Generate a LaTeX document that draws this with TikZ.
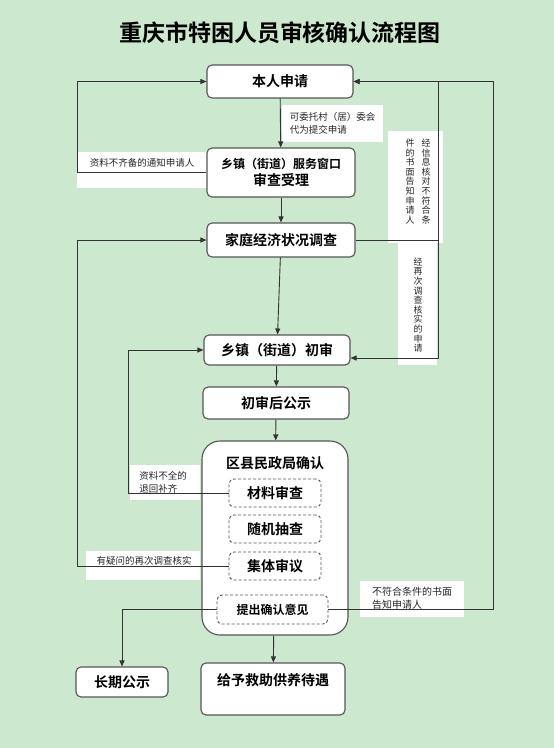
\documentclass[tikz,border=0pt]{standalone}
\usepackage{fontspec}
\setmainfont{Noto Sans CJK SC}[BoldFont={Noto Sans CJK SC Bold}]
\usepackage{xcolor}
\usetikzlibrary{arrows.meta}

\definecolor{bgreen}{HTML}{CCE8CF}
\definecolor{boxline}{HTML}{555555}
\definecolor{wire}{HTML}{333333}

\tikzset{
  stepbox/.style={draw=boxline, line width=1.1pt, fill=white, rounded corners=5pt,
    inner sep=0pt, align=center, font=\fontsize{14}{17}\selectfont\bfseries},
  checkbox/.style={draw=boxline, line width=0.9pt, dash pattern=on 3pt off 2pt,
    fill=white, rounded corners=5pt, inner sep=0pt, minimum width=92pt,
    minimum height=28pt, font=\fontsize{14}{17}\selectfont\bfseries},
  notebg/.style={fill=white, inner sep=0pt},
  notetext/.style={inner sep=0pt, text=black!85, align=left,
    font=\fontsize{9.5}{13}\selectfont},
  vtext/.style={inner sep=0pt, text=black!85, align=center,
    font=\fontsize{9}{9.6}\selectfont},
  wireline/.style={draw=wire, line width=0.9pt},
  arr/.style={wireline, -{Triangle[length=6pt,width=5pt]}},
}

\begin{document}
\begin{tikzpicture}[x=1pt,y=-1pt]
  \fill[bgreen] (0,0) rectangle (554,748);
  \useasboundingbox (0,0) rectangle (554,748);

  \node[font=\fontsize{23}{28}\selectfont\bfseries] (title) at (280,33) {重庆市特困人员审核确认流程图};

  % white boxes behind the notes
  \node[notebg, minimum width=101pt, minimum height=37pt] (weituoBg) at (332.5,123.5) {};
  \node[notebg, minimum width=130pt, minimum height=36pt] (buqiBg) at (142,170) {};
  \node[notebg, minimum width=55pt, minimum height=112pt] (xinxiBg) at (415.5,187) {};
  \node[notebg, minimum width=39pt, minimum height=122pt] (zaiciBg) at (417.5,304) {};
  \node[notebg, minimum width=70pt, minimum height=35pt] (buquanBg) at (165,482.5) {};
  \node[notebg, minimum width=114pt, minimum height=29pt] (yiwenBg) at (143,565.5) {};
  \node[notebg, minimum width=104pt, minimum height=36pt] (bufuBg) at (412,599) {};

  % notes
  \node[notetext] (weituo) at (332.5,123.5) {可委托村（居）委会\\代为提交申请};
  \node[notetext] (buqi) at (142,163) {资料不齐备的通知申请人};
  \node[vtext] (xinxiR) at (426,181.5) {经\\信\\息\\核\\对\\不\\符\\合\\条};
  \node[vtext] (xinxiL) at (410,181.5) {件\\的\\书\\面\\告\\知\\申\\请\\人};
  \node[vtext] (zaici) at (418,305) {经\\再\\次\\调\\查\\核\\实\\的\\申\\请};
  \node[notetext] (buquan) at (163,482.5) {资料不全的\\退回补齐};
  \node[notetext] (yiwen) at (144,561) {有疑问的再次调查核实};
  \node[notetext, font=\fontsize{10}{13}\selectfont] (bufu) at (412,598.5) {不符合条件的书面\\告知申请人};

  % steps
  \node[stepbox, minimum width=146pt, minimum height=33pt] (benren) at (280,81.5) {本人申请};
  \node[stepbox, minimum width=148pt, minimum height=49pt] (chuangkou) at (281,172.5)
    {{\fontsize{12}{17}\selectfont 乡镇（街道）服务窗口}\\审查受理};
  \node[stepbox, minimum width=148pt, minimum height=34pt] (jiating) at (281,240) {家庭经济状况调查};
  \node[stepbox, minimum width=146pt, minimum height=30pt] (chushen) at (277,350) {乡镇（街道）初审};
  \node[stepbox, minimum width=146pt, minimum height=32pt] (gongshi) at (276,403) {初审后公示};

  \node[draw=boxline, line width=1.1pt, fill=white, rounded corners=18pt,
    minimum width=146pt, minimum height=194pt] (quxian) at (275,538) {};
  \node[font=\fontsize{14}{17}\selectfont\bfseries] (quxianT) at (275,463) {区县民政局确认};
  \node[checkbox] (cailiao) at (275,493) {材料审查};
  \node[checkbox] (suiji) at (275,529) {随机抽查};
  \node[checkbox] (jiti) at (275,566) {集体审议};
  \node[checkbox, minimum width=111pt, minimum height=29pt,
    font=\fontsize{12}{15}\selectfont\bfseries] (tichu) at (272.5,609.5) {提出确认意见};

  \node[stepbox, minimum width=92pt, minimum height=30pt] (changqi) at (122,682) {长期公示};
  \node[stepbox, minimum width=144pt, minimum height=52pt, text height=10pt,
    text depth=18pt] (jiuzhu) at (273,689) {给予救助供养待遇};

  % rails for the loops
  \coordinate (leftrail) at (77,0);
  \coordinate (midrail) at (128,0);
  \coordinate (rightrail) at (438,0);
  \coordinate (outerrail) at (493,0);

  % main flow
  \draw[arr] (benren) -- (chuangkou);
  \draw[arr] (chuangkou) -- (jiating);
  \draw[arr] (jiating) -- (chushen);
  \draw[arr] (chushen) -- (gongshi);
  \draw[arr] (gongshi) -- (quxian);
  \draw[arr] (quxian) -- (jiuzhu);

  % returns
  \draw[arr] (chuangkou.west) -- (chuangkou.west -| leftrail) |- (benren.west);
  \draw[arr] (jiti.west) -- (jiti.west -| leftrail) |- (jiating.west);
  \draw[arr] (cailiao.west) -- (cailiao.west -| midrail) |- (chushen.west);
  \draw[arr] (jiating.east) -- (jiating.east -| rightrail) |- (benren.east);
  \draw[arr] (jiating.east -| rightrail) |- ([yshift=-8pt]chushen.east);
  \draw[arr] (tichu.east) -- (tichu.east -| outerrail) |- (benren.east);
  \draw[arr] (tichu.west) -| (changqi.north);
\end{tikzpicture}
\end{document}
